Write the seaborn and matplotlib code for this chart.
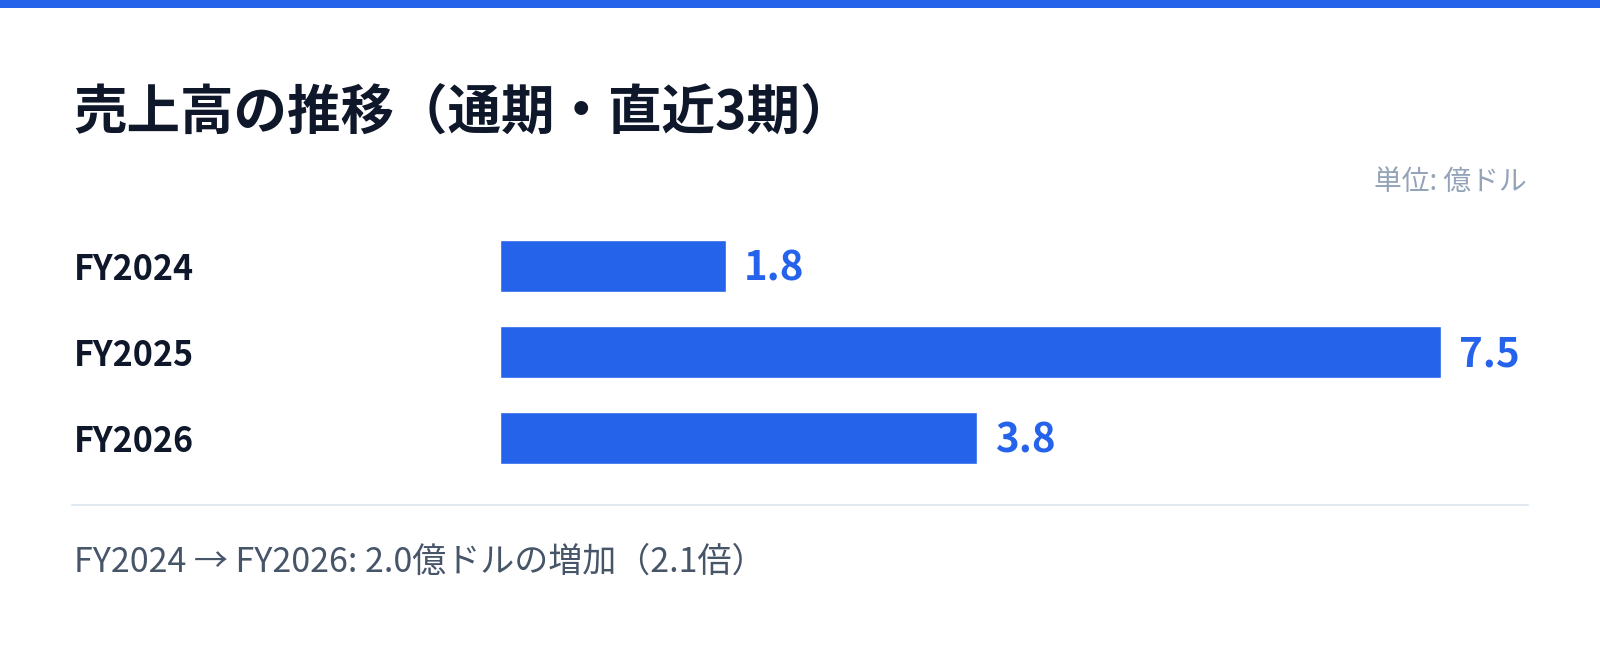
import matplotlib
matplotlib.use("Agg")
import matplotlib.pyplot as plt
from matplotlib.patches import Rectangle
from matplotlib.lines import Line2D
import seaborn as sns
import pandas as pd

# ---- data ----
categories = ["FY2024", "FY2025", "FY2026"]
values = [1.8, 7.5, 3.8]
title = "売上高の推移（通期・直近3期）"
unit_label = "単位: 億ドル"
footer = "FY2024 → FY2026: 2.0億ドルの増加（2.1倍）"

BLUE = "#2563EB"
DARK = "#0F172A"
GREY = "#94A3B8"
FOOT = "#475569"
LINE = "#E2E8F0"

sns.set_theme(style="white")
plt.rcParams["font.family"] = ["Noto Sans CJK JP", "DejaVu Sans"]

W, H = 1600, 647
fig = plt.figure(figsize=(W / 100, H / 100), dpi=100)
fig.patch.set_facecolor("white")

# top accent band
fig.patches.append(Rectangle((0, 1 - 8 / H), 1, 8 / H, transform=fig.transFigure,
                             facecolor=BLUE, edgecolor="none", zorder=5))

# bar axes
ax_left, ax_right = 500, 1528
ax_top, ax_bot = 223, 481
ax = fig.add_axes([ax_left / W, 1 - ax_bot / H, (ax_right - ax_left) / W, (ax_bot - ax_top) / H])
df = pd.DataFrame({"period": categories, "value": values})
sns.barplot(data=df, x="value", y="period", orient="h", color=BLUE, saturation=1,
            width=0.605, ax=ax)
ax.set_xlim(0, 7.5 * (ax_right - ax_left) / 941)
ax.set_ylim(2.5, -0.5)
ax.set_xlabel("")
ax.set_ylabel("")
ax.set_xticks([])
for s in ax.spines.values():
    s.set_visible(False)
ax.set_facecolor("none")

pad_pts = (ax_left - 73.5) * 72 / 100
ax.tick_params(axis="y", length=0, pad=pad_pts)
for lab in ax.get_yticklabels():
    lab.set_ha("left")
    lab.set_fontsize(24.5)
    lab.set_fontweight("bold")
    lab.set_color(DARK)

for cont in ax.containers:
    anns = ax.bar_label(cont, fmt="%.1f", padding=18 * 72 / 100, fontsize=29,
                        fontweight="bold", color=BLUE)
    for a in anns:
        a.xyann = (18 * 72 / 100, -3 * 72 / 100)

# title, unit, separator, footer
fig.text(73 / W, 1 - 114 / H, title, fontsize=38.5, fontweight="bold", color=DARK,
         ha="left", va="center")
fig.text(1527 / W, 1 - 182 / H, unit_label, fontsize=20, color=GREY,
         ha="right", va="center")
fig.lines.append(Line2D([72 / W, 1528 / W], [1 - 505 / H, 1 - 505 / H],
                        transform=fig.transFigure, color=LINE, linewidth=1.5))
fig.text(73.5 / W, 1 - 562 / H, footer, fontsize=24.5, color=FOOT,
         ha="left", va="center")

fig.savefig("out.png", dpi=100, facecolor="white")
